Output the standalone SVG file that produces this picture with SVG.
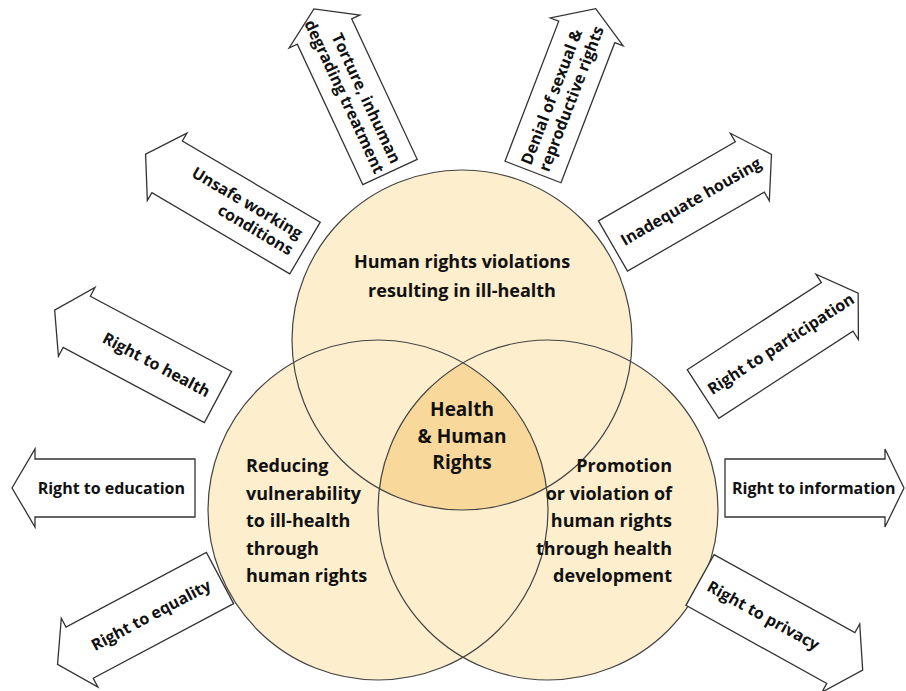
<svg xmlns="http://www.w3.org/2000/svg" width="906" height="691" viewBox="0 0 906 691">
<style>
.arrow{fill:#fff;stroke:#333;stroke-width:1.3;stroke-linejoin:miter}
.al{font-family:"Open Sans","Noto Sans",sans-serif;font-weight:700;font-size:16px;fill:#111}
.ct{font-family:"Open Sans","Noto Sans",sans-serif;font-weight:700;font-size:18px;fill:#111}
.cc{font-family:"Open Sans","Noto Sans",sans-serif;font-weight:700;font-size:19px;fill:#111}
.ring{fill:none;stroke:#444;stroke-width:1.2}
</style>
<defs>
<clipPath id="clipL"><circle cx="378" cy="510" r="170"/></clipPath>
<clipPath id="clipR"><circle cx="548" cy="510" r="170"/></clipPath>
</defs>
<rect width="906" height="691" fill="#fff"/>
<g id="circles">
<circle cx="462" cy="340" r="170" fill="#fdeecd"/>
<circle cx="378" cy="510" r="170" fill="#fdeecd"/>
<circle cx="548" cy="510" r="170" fill="#fdeecd"/>
<g clip-path="url(#clipL)"><g clip-path="url(#clipR)"><circle cx="462" cy="340" r="170" fill="#f9d89c"/></g></g>
<circle class="ring" cx="462" cy="340" r="170"/>
<circle class="ring" cx="378" cy="510" r="170"/>
<circle class="ring" cx="548" cy="510" r="170"/>
</g>
<g id="node-top">
<text class="ct" x="462" y="268" text-anchor="middle">Human rights violations</text>
<text class="ct" x="462" y="297" text-anchor="middle">resulting in ill-health</text>
</g>
<g id="node-center">
<text class="cc" x="462" y="416" text-anchor="middle">Health</text>
<text class="cc" x="462" y="443" text-anchor="middle">&amp; Human</text>
<text class="cc" x="462" y="469" text-anchor="middle">Rights</text>
</g>
<g id="node-left">
<text class="ct" x="246" y="472">Reducing</text>
<text class="ct" x="246" y="500">vulnerability</text>
<text class="ct" x="246" y="527">to ill-health</text>
<text class="ct" x="246" y="555">through</text>
<text class="ct" x="246" y="582">human rights</text>
</g>
<g id="node-right">
<text class="ct" x="672" y="472" text-anchor="end">Promotion</text>
<text class="ct" x="672" y="500" text-anchor="end">or violation of</text>
<text class="ct" x="672" y="527" text-anchor="end">human rights</text>
<text class="ct" x="672" y="555" text-anchor="end">through health</text>
<text class="ct" x="672" y="582" text-anchor="end">development</text>
</g>
<g id="arrows">
<g id="arrow-education" transform="translate(195,488) rotate(180)">
<path class="arrow" d="M0,-29 L160,-29 L160,-39 L183,0 L160,39 L160,29 L0,29 Z"/>
<text class="al" transform="rotate(180)" x="-10" y="6" text-anchor="end">Right to education</text>
</g>
<g id="arrow-information" transform="translate(725,488)">
<path class="arrow" d="M0,-29 L160,-29 L160,-39 L179,0 L160,39 L160,29 L0,29 Z"/>
<text class="al" x="7" y="6">Right to information</text>
</g>
<g id="arrow-health" transform="translate(218,397) rotate(208)">
<path class="arrow" d="M0,-29 L160,-29 L160,-39 L185,0 L160,39 L160,29 L0,29 Z"/>
<text class="al" transform="rotate(180)" x="-10" y="6" text-anchor="end">Right to health</text>
</g>
<g id="arrow-unsafe" transform="translate(305,248) rotate(210.5)">
<path class="arrow" d="M0,-30 L160,-30 L160,-39 L185,0 L160,39 L160,30 L0,30 Z"/>
<text class="al" transform="rotate(180)" x="-10" y="-4" text-anchor="end">Unsafe working</text>
<text class="al" transform="rotate(180)" x="-10" y="15" text-anchor="end">conditions</text>
</g>
<g id="arrow-torture" transform="translate(390,172) rotate(245)">
<path class="arrow" d="M0,-30 L155,-30 L155,-39 L180,0 L155,39 L155,30 L0,30 Z"/>
<text class="al" transform="rotate(180)" x="-6" y="-4" text-anchor="end">Torture, inhuman</text>
<text class="al" transform="rotate(180)" x="-4" y="15" text-anchor="end">degrading treatment</text>
</g>
<g id="arrow-denial" transform="translate(533,172) rotate(-69)">
<path class="arrow" d="M0,-30 L150,-30 L150,-39 L175,0 L150,39 L150,30 L0,30 Z"/>
<text class="al" x="5" y="-4">Denial of sexual &amp;</text>
<text class="al" x="5" y="15">reproductive rights</text>
</g>
<g id="arrow-housing" transform="translate(613,246) rotate(-30)">
<path class="arrow" d="M0,-29 L158,-29 L158,-39 L183,0 L158,39 L158,29 L0,29 Z"/>
<text class="al" x="10" y="6">Inadequate housing</text>
</g>
<g id="arrow-participation" transform="translate(703,394) rotate(-33)">
<path class="arrow" d="M0,-29 L160,-29 L160,-39 L185,0 L160,39 L160,29 L0,29 Z"/>
<text class="al" x="7" y="6">Right to participation</text>
</g>
<g id="arrow-equality" transform="translate(220,578) rotate(152)">
<path class="arrow" d="M0,-29 L159,-29 L159,-39 L184,0 L159,39 L159,29 L0,29 Z"/>
<text class="al" transform="rotate(180)" x="-12" y="6" text-anchor="end">Right to equality</text>
</g>
<g id="arrow-privacy" transform="translate(700,580) rotate(29)">
<path class="arrow" d="M0,-29 L161,-29 L161,-39 L186,0 L161,39 L161,29 L0,29 Z"/>
<text class="al" x="10" y="6">Right to privacy</text>
</g>
</g>
</svg>
